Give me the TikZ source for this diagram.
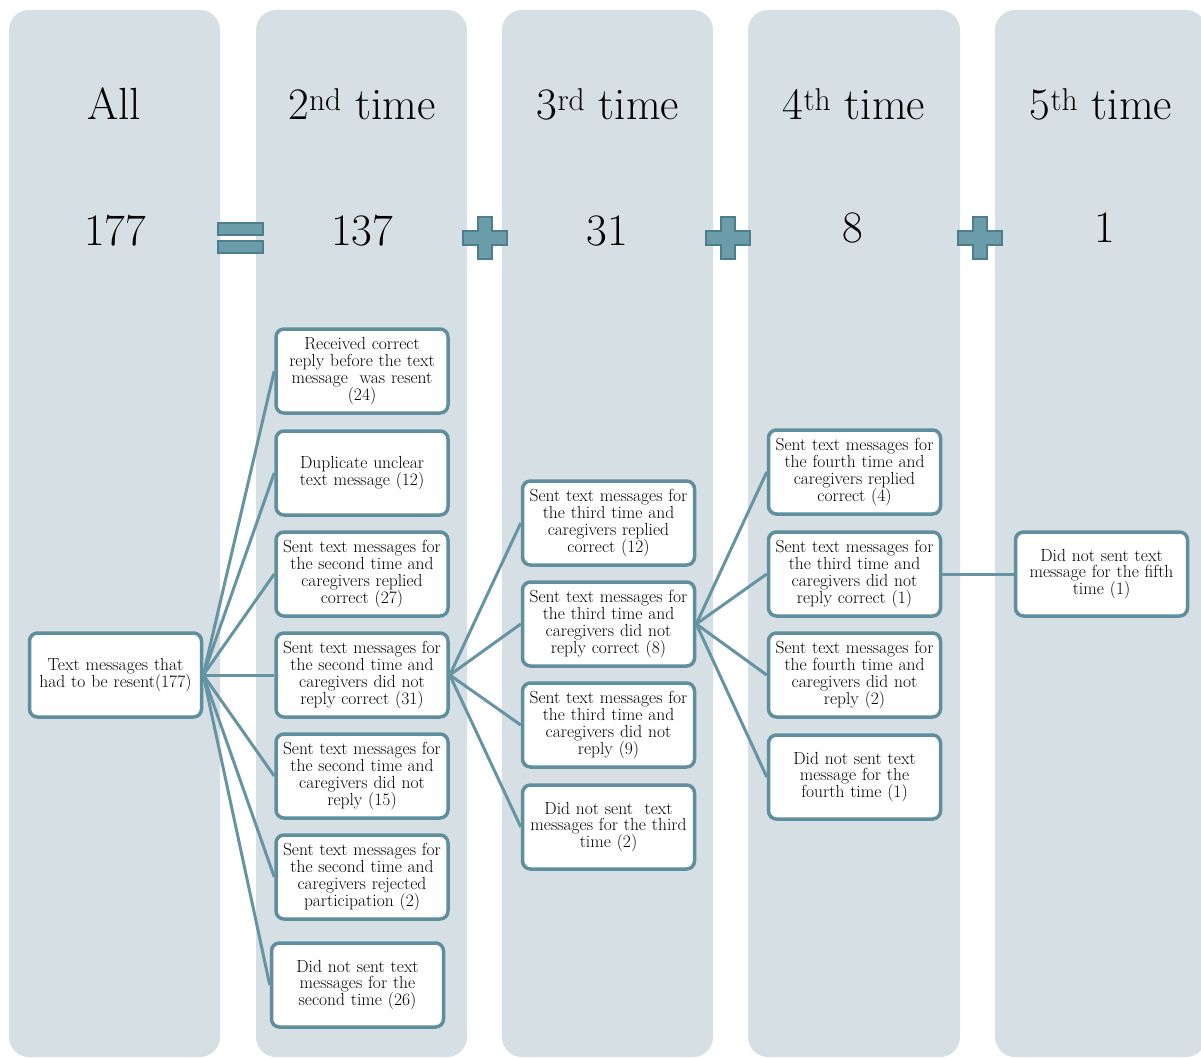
\documentclass[tikz,border=0pt]{standalone}
\usepackage{tikz}
\definecolor{colgray}{HTML}{D6DFE4}
\definecolor{boxline}{HTML}{5F8F9E}
\definecolor{linkline}{HTML}{6694A3}
\definecolor{symfill}{HTML}{6A9CAA}
\definecolor{symline}{HTML}{4D7E8E}
\tikzset{
  colbg/.style={fill=colgray, draw=none, rounded corners=20pt},
  head/.style={anchor=base, font=\fontsize{45pt}{50pt}\selectfont},
  flowbox/.style={draw=boxline, fill=white, line width=3.5pt, rounded corners=8pt,
    minimum width=172pt, minimum height=84pt, text width=172pt, align=center,
    inner sep=0pt, font=\fontsize{17.5pt}{16.8pt}\selectfont},
  link/.style={draw=linkline, line width=3pt},
  symb/.style={draw=symline, fill=symfill, line width=2.5pt}
}
\begin{document}
\begin{tikzpicture}[x=1pt, y=-1pt]
\clip (0,0) rectangle (1201,1059);
\fill[white] (0,0) rectangle (1201,1059);

% stage columns
\fill[colbg] (9,10) rectangle (220,1057);
\fill[colbg] (256,10) rectangle (467,1057);
\fill[colbg] (502,10) rectangle (713,1057);
\fill[colbg] (748,10) rectangle (960,1057);
\fill[colbg] (995,10) rectangle (1206,1057);

% column headings
\node[head] (h1) at (114,120) {All};
\node[head] (h2) at (362,120) {2\textsuperscript{nd} time};
\node[head] (h3) at (608,120) {3\textsuperscript{rd} time};
\node[head] (h4) at (854,120) {4\textsuperscript{th} time};
\node[head] (h5) at (1101,120) {5\textsuperscript{th} time};

% totals
\node[head] (n1) at (115,246) {177};
\node[head] (n2) at (362,246) {137};
\node[head] (n3) at (607,246) {31};
\node[head] (n4) at (853,243) {8};
\node[head] (n5) at (1105,243) {1};

% equals sign
\draw[symb] (218,223) rectangle (263,235);
\draw[symb] (218,241) rectangle (263,253);

% plus signs
\foreach \cx in {485,728,980} {
  \draw[symb] (\cx-7,217) -- (\cx+7,217) -- (\cx+7,231) -- (\cx+22,231) -- (\cx+22,245)
    -- (\cx+7,245) -- (\cx+7,259) -- (\cx-7,259) -- (\cx-7,245) -- (\cx-22,245)
    -- (\cx-22,231) -- (\cx-7,231) -- cycle;
}

% starting box
\node[flowbox] (root) at (115.5,675) {Text messages that\\had to be resent(177)};

% second time
\node[flowbox] (b1) at (362,371) {Received correct\\reply before the text\\message\ \ was resent\\(24)};
\node[flowbox] (b2) at (362,473) {Duplicate unclear\\text message (12)};
\node[flowbox] (b3) at (362,574) {Sent text messages for\\the second time and\\caregivers replied\\correct (27)};
\node[flowbox] (b4) at (362,675) {Sent text messages for\\the second time and\\caregivers did not\\reply correct (31)};
\node[flowbox] (b5) at (362,776) {Sent text messages for\\the second time and\\caregivers did not\\reply (15)};
\node[flowbox] (b6) at (362,877) {Sent text messages for\\the second time and\\caregivers rejected\\participation (2)};
\node[flowbox] (b7) at (357.5,985) {Did not sent text\\messages for the\\second time (26)};

% third time
\node[flowbox] (c1) at (608.5,523) {Sent text messages for\\the third time and\\caregivers replied\\correct (12)};
\node[flowbox] (c2) at (608.5,624) {Sent text messages for\\the third time and\\caregivers did not\\reply correct (8)};
\node[flowbox] (c3) at (608.5,725) {Sent text messages for\\the third time and\\caregivers did not\\reply (9)};
\node[flowbox] (c4) at (608.5,827) {Did not sent\ \ text\\messages for the third\\time (2)};

% fourth time
\node[flowbox] (d1) at (854.5,472) {Sent text messages for\\the fourth time and\\caregivers replied\\correct (4)};
\node[flowbox] (d2) at (854.5,574) {Sent text messages for\\the third time and\\caregivers did not\\reply correct (1)};
\node[flowbox] (d3) at (854.5,675) {Sent text messages for\\the fourth time and\\caregivers did not\\reply (2)};
\node[flowbox] (d4) at (854.5,777) {Did not sent text\\message for the\\fourth time (1)};

% fifth time
\node[flowbox] (e1) at (1101.5,574) {Did not sent text\\message for the fifth\\time (1)};

% connectors
\foreach \t in {b1,b2,b3,b4,b5,b6,b7} { \draw[link] (root.east) -- (\t.west); }
\foreach \t in {c1,c2,c3,c4} { \draw[link] (b4.east) -- (\t.west); }
\foreach \t in {d1,d2,d3,d4} { \draw[link] (c2.east) -- (\t.west); }
\draw[link] (d2.east) -- (e1.west);
\end{tikzpicture}
\end{document}
